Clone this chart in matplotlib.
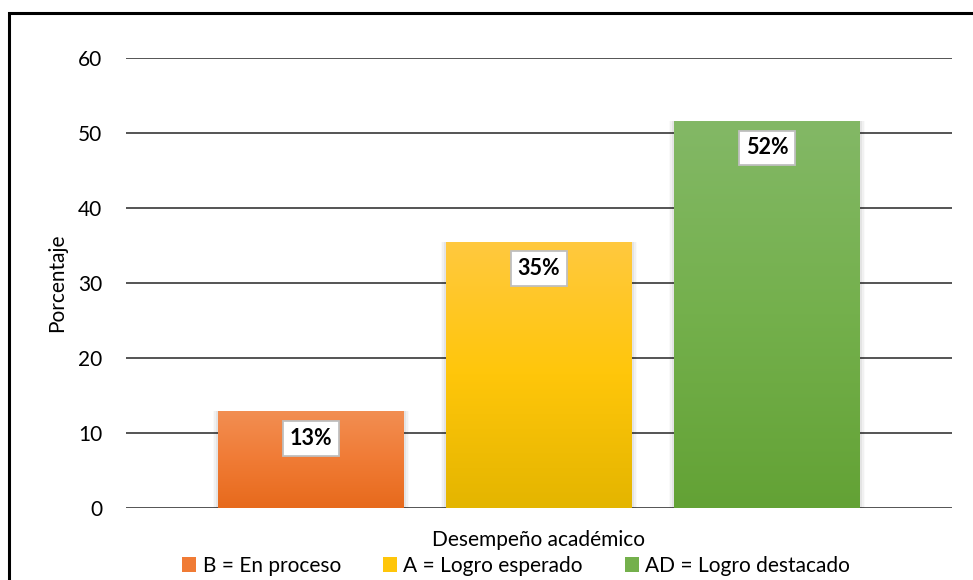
import numpy as np
import matplotlib
matplotlib.use("Agg")
import matplotlib.pyplot as plt
from matplotlib.patches import Rectangle, Patch
from matplotlib.colors import LinearSegmentedColormap

plt.rcParams["font.family"] = ["Lato", "DejaVu Sans"]

# --- data ---
categories = ["B = En proceso", "A = Logro esperado", "AD = Logro destacado"]
values = [12.9, 35.5, 51.6]
labels = ["13%", "35%", "52%"]
top_colors = ["#F28E52", "#FFC93F", "#83B866"]
mid_colors = ["#F07B35", "#FFC60A", "#74B04C"]
bottom_colors = ["#E76A1C", "#E4B500", "#63A235"]

W, H = 973, 580
fig = plt.figure(figsize=(W / 100, H / 100), dpi=100)
ax = fig.add_axes([126 / W, 72 / H, (952 - 126) / W, (508 - 58) / H])

# single category, three clustered series
bar_w = 186 / 826
gap = 42 / 826
offsets = [-(bar_w + gap), 0, bar_w + gap]
ax.set_xlim(-0.5, 0.5)
ax.set_ylim(0, 60)

for i, (v, off) in enumerate(zip(values, offsets)):
    x0 = off - bar_w / 2
    # soft shadow at the sides
    for k, a in enumerate([0.05, 0.035, 0.02]):
        d = (k + 1) * 0.0022
        ax.add_patch(Rectangle((x0 - d, 0), bar_w + 2 * d, v + d * 4,
                               facecolor="black", alpha=a, lw=0, zorder=2))
    rect = Rectangle((x0, 0), bar_w, v, facecolor="none", lw=0, zorder=3)
    ax.add_patch(rect)
    cmap = LinearSegmentedColormap.from_list(
        f"g{i}", [bottom_colors[i], mid_colors[i], top_colors[i]])
    grad = np.linspace(0, 1, 256).reshape(-1, 1)
    im = ax.imshow(grad, cmap=cmap, aspect="auto", origin="lower",
                   extent=(x0, x0 + bar_w, 0, v), zorder=3)
    im.set_clip_path(rect)
    ax.text(off, v - 3.6, labels[i], ha="center", va="center", fontsize=15.5,
            fontweight="bold", zorder=5,
            bbox=dict(boxstyle="square,pad=0.32", facecolor="white",
                      edgecolor="#BFBFBF", lw=1.3))

ax.set_aspect("auto")
ax.set_xlim(-0.5, 0.5)
ax.set_ylim(0, 60)
ax.set_yticks(range(0, 61, 10))
ax.yaxis.grid(True, color="#262626", lw=1.1)
ax.set_axisbelow(True)
ax.set_xticks([])
for s in ax.spines.values():
    s.set_visible(False)
ax.tick_params(axis="y", length=0, labelsize=15, pad=17)
ax.set_ylabel("Porcentaje", fontsize=15, labelpad=8)
ax.set_xlabel("Desempeño académico", fontsize=15, labelpad=16)

handles = [Patch(facecolor=mid_colors[i], edgecolor="none") for i in range(3)]
fig.legend(handles, categories, loc="center", bbox_to_anchor=(516 / W, 1 - 566 / H),
           ncol=3, frameon=False, fontsize=15, handlelength=0.7, handleheight=0.7,
           handletextpad=0.3, columnspacing=2.0)

# outer frame
fig.add_artist(Rectangle((9 / W, -0.05), 1.1, 1 - 13 / H + 0.05, transform=fig.transFigure,
                         facecolor="none", edgecolor="black", lw=2.2))

fig.savefig("out.png", dpi=100)
